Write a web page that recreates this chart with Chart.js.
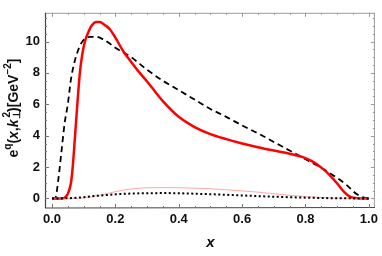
<!DOCTYPE html>
<html>
<head>
<meta charset="utf-8">
<script src="https://cdn.jsdelivr.net/npm/chart.js@4.4.1/dist/chart.umd.min.js"></script>
<style>
  html, body { margin: 0; padding: 0; background: #fff; }
  #wrap { width: 382px; height: 256px; position: relative; }
</style>
</head>
<body>
<div id="wrap"><canvas id="chart"></canvas></div>
<script>
// red solid curve
const redX = [0, 0.03, 0.04, 0.05, 0.06, 0.065, 0.07, 0.075, 0.08, 0.088, 0.095, 0.104, 0.115, 0.125, 0.14, 0.15, 0.16, 0.17, 0.182, 0.2, 0.226, 0.25, 0.277, 0.3, 0.324, 0.35, 0.4, 0.45, 0.5, 0.55, 0.6, 0.65, 0.7, 0.75, 0.78, 0.8, 0.82, 0.84, 0.86, 0.88, 0.9, 0.92, 0.94, 0.96, 0.98, 1.0];
const redY = [0, 0, 0.05, 0.3, 1.0, 1.9, 3.2, 4.6, 6.0, 8.0, 9.1, 10.0, 10.6, 11.0, 11.25, 11.25, 11.15, 11.0, 10.8, 10.25, 9.35, 8.7, 8.0, 7.45, 6.85, 6.2, 5.2, 4.55, 4.1, 3.78, 3.5, 3.26, 3.05, 2.85, 2.7, 2.57, 2.38, 2.12, 1.8, 1.4, 0.95, 0.45, 0.12, 0.02, 0, 0];

// black dashed curve
const dashX = [0, 0.01, 0.02, 0.03, 0.04, 0.05, 0.06, 0.07, 0.08, 0.09, 0.1, 0.12, 0.14, 0.16, 0.18, 0.2, 0.25, 0.3, 0.35, 0.4, 0.45, 0.5, 0.55, 0.6, 0.65, 0.7, 0.75, 0.8, 0.85, 0.9, 0.93, 0.96, 0.98, 1.0];
const dashY = [0, 0, 1.2, 3.0, 4.8, 6.0, 7.6, 8.6, 9.3, 9.8, 10.1, 10.3, 10.3, 10.15, 9.9, 9.6, 9.0, 8.2, 7.5, 6.9, 6.3, 5.7, 5.2, 4.65, 4.15, 3.6, 3.05, 2.5, 1.95, 1.3, 0.85, 0.3, 0.08, 0];

// thin pink curve
const pinkX = [0, 0.05, 0.1, 0.15, 0.2, 0.25, 0.3, 0.35, 0.4, 0.45, 0.5, 0.55, 0.6, 0.65, 0.7, 0.75, 0.8, 0.85, 0.9, 0.95, 1.0];
const pinkY = [0, 0, 0.03, 0.2, 0.43, 0.6, 0.68, 0.69, 0.68, 0.65, 0.62, 0.55, 0.48, 0.4, 0.3, 0.2, 0.12, 0.06, 0.02, 0, 0];

// black dotted curve
const dotX = [0, 0.05, 0.1, 0.15, 0.2, 0.25, 0.3, 0.35, 0.4, 0.45, 0.5, 0.6, 0.7, 0.8, 0.9, 1.0];
const dotY = [0, 0.01, 0.08, 0.18, 0.26, 0.31, 0.33, 0.34, 0.33, 0.3, 0.27, 0.19, 0.11, 0.05, 0.01, 0];

const xTicks = [0, 0.2, 0.4, 0.6, 0.8, 1.0];
const yTicks = [0, 2, 4, 6, 8, 10];

function pts(xs, ys) {
    return xs.map((x, i) => ({ x: x, y: ys[i] }));
}

const labelFont = { family: 'Liberation Sans, Arial, sans-serif', size: 13, weight: 'bold' };

// frame with inward ticks on every side, like the original
const framePlugin = {
    id: 'frame',
    afterDraw(chart) {
        const ctx = chart.ctx;
        const a = chart.chartArea;
        const xs = chart.scales.x, ys = chart.scales.y;
        ctx.save();
        ctx.lineWidth = 1;
        // top + right, lighter
        ctx.strokeStyle = '#9a9a9a';
        ctx.beginPath();
        ctx.moveTo(a.left, a.top + 0.5); ctx.lineTo(a.right, a.top + 0.5);
        ctx.moveTo(a.right - 0.5, a.top); ctx.lineTo(a.right - 0.5, a.bottom);
        ctx.stroke();
        for (let v = 0; v <= 1.0001; v += 0.05) {
            const px = Math.round(xs.getPixelForValue(v)) + 0.5;
            const major = Math.abs(v * 5 - Math.round(v * 5)) < 1e-6;
            const len = major ? 4 : 2;
            ctx.beginPath();
            ctx.moveTo(px, a.top); ctx.lineTo(px, a.top + len);
            ctx.stroke();
        }
        for (let v = 0; v <= 11.5; v += 0.5) {
            const py = Math.round(ys.getPixelForValue(v)) + 0.5;
            const major = (v % 2) === 0;
            const len = major ? 4 : 2;
            ctx.beginPath();
            ctx.moveTo(a.right, py); ctx.lineTo(a.right - len, py);
            ctx.stroke();
        }
        // left + bottom, dark
        ctx.strokeStyle = '#444';
        ctx.lineWidth = 1.2;
        ctx.beginPath();
        ctx.moveTo(a.left + 0.5, a.top); ctx.lineTo(a.left + 0.5, a.bottom);
        ctx.lineTo(a.right, a.bottom - 0.5);
        ctx.stroke();
        ctx.lineWidth = 1;
        ctx.strokeStyle = '#777';
        for (let v = 0; v <= 1.0001; v += 0.05) {
            const px = Math.round(xs.getPixelForValue(v)) + 0.5;
            const major = Math.abs(v * 5 - Math.round(v * 5)) < 1e-6;
            const len = major ? 4 : 2;
            ctx.beginPath();
            ctx.moveTo(px, a.bottom); ctx.lineTo(px, a.bottom - len);
            ctx.stroke();
        }
        for (let v = 0; v <= 11.5; v += 0.5) {
            const py = Math.round(ys.getPixelForValue(v)) + 0.5;
            const major = (v % 2) === 0;
            const len = major ? 4 : 2;
            ctx.beginPath();
            ctx.moveTo(a.left, py); ctx.lineTo(a.left + len, py);
            ctx.stroke();
        }

        // x axis title
        ctx.fillStyle = '#111';
        ctx.font = 'italic bold 15px "Liberation Sans", Arial, sans-serif';
        ctx.textAlign = 'center';
        ctx.textBaseline = 'middle';
        ctx.fillText('x', xs.getPixelForValue(0.5), 243);

        // y axis title with superscripts
        ctx.translate(14, 108);
        ctx.rotate(-Math.PI / 2);
        const parts = [
            { t: 'e', f: 'bold 14px', dy: 0 },
            { t: 'q', f: 'bold 10px', dy: -6 },
            { t: '(', f: 'bold 14px', dy: 0 },
            { t: 'x', f: 'italic bold 14px', dy: 0 },
            { t: ',', f: 'bold 14px', dy: 0 },
            { t: 'k', f: 'italic bold 14px', dy: 0 },
            { t: '\u22A5', f: 'bold 10px', dy: 3 },
            { t: '2', f: 'bold 10px', dy: -7, back: 7 },
            { t: ')[GeV', f: 'bold 14px', dy: 0 },
            { t: '\u22122', f: 'bold 10px', dy: -6 },
            { t: ']', f: 'bold 14px', dy: 0 }
        ];
        const fam = ' "Liberation Sans", Arial, sans-serif';
        let total = 0;
        parts.forEach(p => {
            ctx.font = p.f + fam;
            p.w = ctx.measureText(p.t).width;
            total += p.w - (p.back || 0);
        });
        let cx = -total / 2;
        ctx.textAlign = 'left';
        parts.forEach(p => {
            ctx.font = p.f + fam;
            cx -= (p.back || 0);
            ctx.fillText(p.t, cx, p.dy);
            cx += p.w;
        });
        ctx.restore();
    }
};

const ctx = document.getElementById('chart').getContext('2d');
const chart = new Chart(ctx, {
    type: 'scatter',
    data: {
        datasets: [
            {
                label: 'dotted',
                data: pts(dotX, dotY),
                borderColor: '#000',
                borderWidth: 2,
                borderDash: [2, 2.5],
                showLine: true,
                pointRadius: 0,
                cubicInterpolationMode: 'monotone'
            },
            {
                label: 'pink',
                data: pts(pinkX, pinkY),
                borderColor: 'rgba(255, 110, 110, 0.6)',
                borderWidth: 1,
                showLine: true,
                pointRadius: 0,
                cubicInterpolationMode: 'monotone'
            },
            {
                label: 'red',
                data: pts(redX, redY),
                borderColor: 'rgb(255, 0, 0)',
                borderWidth: 2.5,
                showLine: true,
                pointRadius: 0,
                cubicInterpolationMode: 'monotone'
            },
            {
                label: 'dashed',
                data: pts(dashX, dashY),
                borderColor: '#000',
                borderWidth: 1.8,
                borderDash: [6, 4],
                showLine: true,
                pointRadius: 0,
                cubicInterpolationMode: 'monotone'
            }
        ]
    },
    options: {
        responsive: true,
        maintainAspectRatio: false,
        animation: false,
        layout: { padding: { top: 4, right: 6, left: 0, bottom: 0 } },
        plugins: {
            legend: { display: false },
            tooltip: { enabled: false }
        },
        scales: {
            x: {
                type: 'linear',
                min: -0.022,
                max: 1.019,
                afterFit: s => { s.height = 48; },
                afterBuildTicks: s => { s.ticks = xTicks.map(v => ({ value: v })); },
                grid: { display: false, drawTicks: false },
                border: { display: false },
                ticks: {
                    font: labelFont,
                    color: '#111',
                    padding: 4,
                    maxRotation: 0,
                    callback: v => v.toFixed(1)
                }
            },
            y: {
                type: 'linear',
                min: -0.61,
                max: 11.83,
                afterFit: s => { s.width = 45; },
                afterBuildTicks: s => { s.ticks = yTicks.map(v => ({ value: v })); },
                grid: { display: false, drawTicks: false },
                border: { display: false },
                ticks: {
                    font: labelFont,
                    color: '#111',
                    padding: 5,
                    callback: v => String(v)
                }
            }
        }
    },
    plugins: [framePlugin]
});
</script>
</body>
</html>
